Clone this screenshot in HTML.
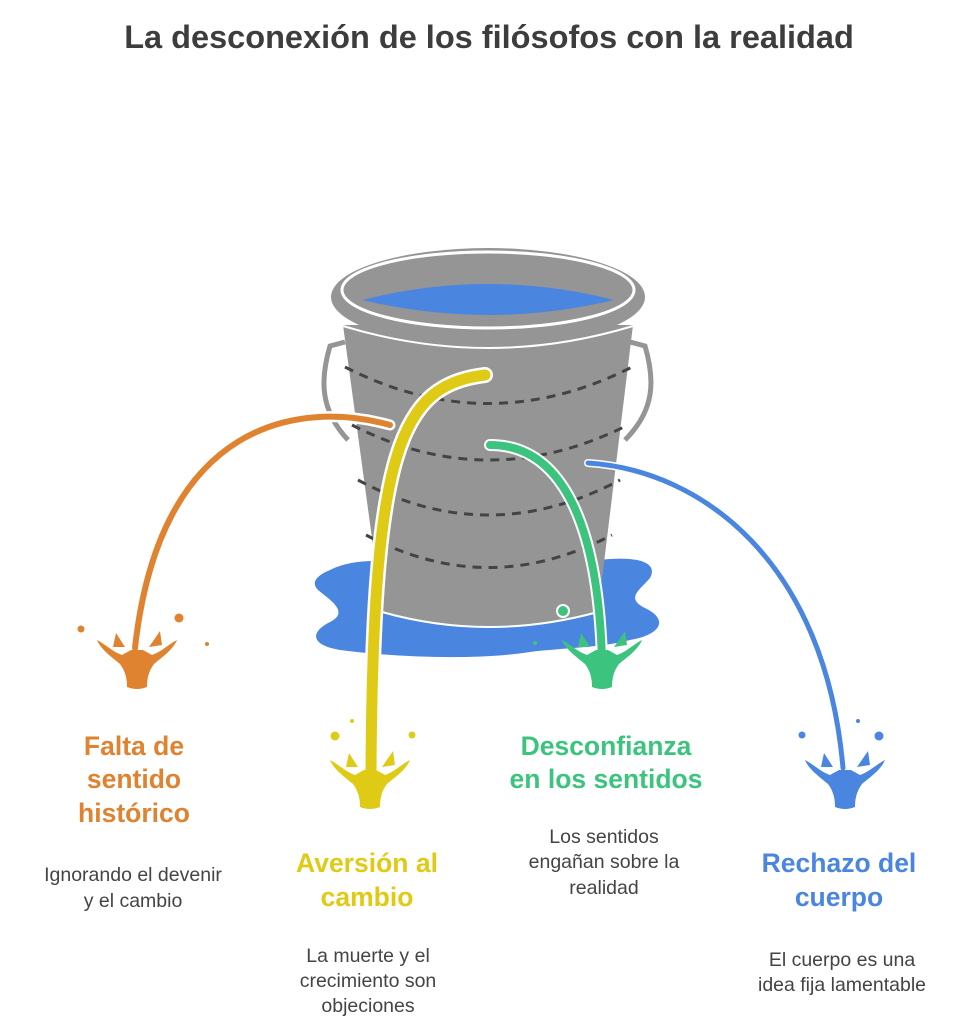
<!DOCTYPE html>
<html><head><meta charset="utf-8"><style>
html,body{margin:0;padding:0;background:#fff;}
body{width:956px;height:1024px;overflow:hidden;font-family:"Liberation Sans",Arial,sans-serif;}
</style></head><body>
<svg width="956" height="1024" viewBox="0 0 956 1024" xmlns="http://www.w3.org/2000/svg" font-family="Liberation Sans, Arial, sans-serif">
<defs>
<path id="spl" d="M-40,-4 C-32,0 -24,8 -15,11 L-6,6 L6,6 L15,11 C24,8 32,0 40,-4 C36,6 24,14 17,20 C11,28 10,36 10,43 Q0,47 -10,43 C-10,36 -11,28 -17,20 C-24,14 -36,6 -40,-4 Z M-24,3 L-21,-11 L-12,3 Z M12,3 L23,-13 L25,1 Z"/>
</defs>
<rect width="956" height="1024" fill="#fff"/>
<text x="489" y="48" text-anchor="middle" font-size="32.5" font-weight="bold" fill="#3d3d3d">La desconexión de los filósofos con la realidad</text>

<!-- puddle -->
<path d="M330,570 C360,555 400,562 430,568 L600,560 C630,556 660,560 650,578 C640,590 625,598 645,608 C670,620 660,635 630,640 C600,648 560,648 530,652 C480,660 400,658 340,650 C310,645 310,632 330,622 C350,612 330,600 318,590 C310,582 318,575 330,570 Z" fill="#4a86e0"/>
<!-- handles -->
<path d="M345,342 L330,346 C320,380 320,410 348,440" fill="none" stroke="#959595" stroke-width="5"/>
<path d="M630,342 L645,346 C655,380 655,410 625,440" fill="none" stroke="#959595" stroke-width="5"/>
<!-- body -->
<path d="M343,325 L633,325 L598,612 Q488,640 382,612 Z" fill="#959595"/>
<path d="M382,612 Q488,642 598,612" fill="none" stroke="#fff" stroke-width="2"/>
<g fill="none" stroke="#444" stroke-width="3" stroke-dasharray="9,7">
<path d="M345,367 Q488,440 632,367"/>
<path d="M352,425 Q488,495 628,425"/>
<path d="M358,480 Q488,550 620,480"/>
<path d="M366,535 Q488,600 612,535"/>
</g>
<!-- rim -->
<ellipse cx="488" cy="297" rx="157" ry="49" fill="#959595"/>
<path d="M343,326 Q488,370 633,326" fill="none" stroke="#fff" stroke-width="2"/>
<ellipse cx="488" cy="290" rx="146" ry="38" fill="#959595" stroke="#fff" stroke-width="3"/>
<path d="M362,300 Q488,268 614,300 Q488,330 362,300 Z" fill="#4a86e0"/>

<!-- streams -->
<g fill="none" stroke-linecap="round">
<path d="M390,425 C300,400 160,420 135,648" stroke="#fff" stroke-width="11"/>
<path d="M390,425 C300,400 160,420 135,648" stroke="#e08330" stroke-width="6"/>
<path d="M485,375 C400,385 373,450 371,770" stroke="#fff" stroke-width="16"/>
<path d="M485,375 C400,385 373,450 371,770" stroke="#dfca16" stroke-width="11"/>
<path d="M490,445 C560,445 598,520 602,660" stroke="#fff" stroke-width="12"/>
<path d="M490,445 C560,445 598,520 602,660" stroke="#3cc47f" stroke-width="8"/>
<path d="M588,463 C700,470 825,560 843,768" stroke="#fff" stroke-width="8"/>
<path d="M588,463 C700,470 825,560 843,768" stroke="#4a86e0" stroke-width="5"/>
</g>

<!-- splashes -->
<g fill="#e08330"><use href="#spl" transform="translate(137,644)"/><circle cx="81" cy="629" r="3.5"/><circle cx="179" cy="618" r="4.5"/><circle cx="207" cy="644" r="2"/></g>
<g fill="#dfca16"><use href="#spl" transform="translate(370,764)"/><circle cx="335" cy="736" r="4.5"/><circle cx="352" cy="721" r="2"/><circle cx="412" cy="735" r="3.5"/></g>
<g fill="#3cc47f"><use href="#spl" transform="translate(602,644)"/><circle cx="563" cy="611" r="6" stroke="#fff" stroke-width="2"/><circle cx="535" cy="643" r="2"/></g>
<g fill="#4a86e0"><use href="#spl" transform="translate(845,764)"/><circle cx="802" cy="735" r="3.5"/><circle cx="858" cy="721" r="2"/><circle cx="879" cy="736" r="4.5"/></g>

<!-- labels -->
<g font-weight="bold" font-size="26.5" text-anchor="middle">
<g fill="#e08330"><text x="134" y="755">Falta de</text><text x="134" y="788">sentido</text><text x="134" y="822">histórico</text></g>
<g fill="#dfca16"><text x="367" y="872">Aversión al</text><text x="367" y="906">cambio</text></g>
<g fill="#3cc47f"><text x="606" y="755">Desconfianza</text><text x="606" y="788">en los sentidos</text></g>
<g fill="#4a86e0"><text x="839" y="872">Rechazo del</text><text x="839" y="906">cuerpo</text></g>
</g>
<g font-size="19.5" text-anchor="middle" fill="#444">
<text x="133" y="881">Ignorando el devenir</text><text x="133" y="907">y el cambio</text>
<text x="368" y="962">La muerte y el</text><text x="368" y="987">crecimiento son</text><text x="368" y="1012">objeciones</text>
<text x="604" y="843">Los sentidos</text><text x="604" y="868">engañan sobre la</text><text x="604" y="894">realidad</text>
<text x="842" y="966">El cuerpo es una</text><text x="842" y="991">idea fija lamentable</text>
</g>
</svg>
</body></html>
